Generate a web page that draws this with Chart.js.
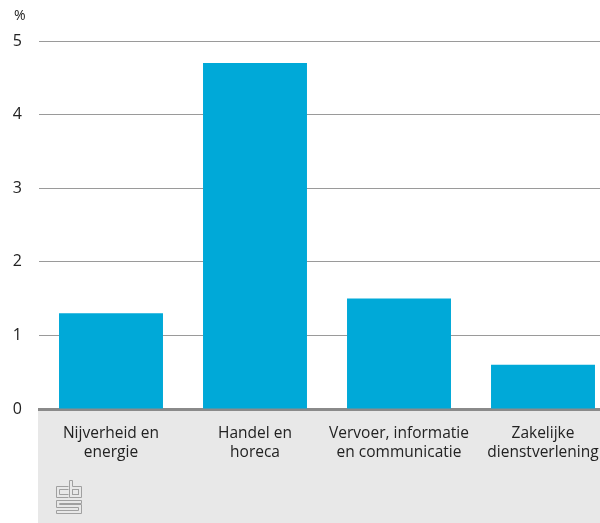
<!DOCTYPE html>
<html>
<head>
<meta charset="utf-8">
<script src="https://cdn.jsdelivr.net/npm/chart.js@4"></script>
<style>
html,body{margin:0;padding:0;overflow:hidden;background:#fff;width:600px;height:523px;}
canvas{display:block;}
</style>
</head>
<body>
<canvas id="c" width="615" height="523"></canvas>
<script>
const categories = [["Nijverheid en","energie"],["Handel en","horeca"],["Vervoer, informatie","en communicatie"],["Zakelijke","dienstverlening"]];
const values = [1.3, 4.7, 1.5, 0.6];
const yTicks = [0,1,2,3,4,5];
const unitLabel = "%";

const FONT = "'Open Sans', sans-serif";

const bgPlugin = {
  id: 'bg',
  beforeDraw(chart) {
    const {ctx, chartArea, width, height} = chart;
    ctx.save();
    ctx.fillStyle = '#e8e8e8';
    ctx.fillRect(chartArea.left - 1, chartArea.bottom + 1, width, height - chartArea.bottom);
    ctx.restore();
  },
  afterDraw(chart) {
    const {ctx} = chart;
    ctx.save();
    ctx.fillStyle = '#222';
    ctx.font = "14px " + FONT;
    ctx.textBaseline = 'middle';
    ctx.textAlign = 'left';
    ctx.fillText(unitLabel, 14, 16);
    // cbs logo (simplified)
    const x0 = 56, y0 = 480;
    ctx.strokeStyle = '#a0a0a0';
    ctx.lineWidth = 1;
    function r(x,y,w,h){ctx.strokeRect(x0+x+0.5,y0+y+0.5,w,h);}
    ctx.beginPath();
    ctx.moveTo(x0+12.5,y0+6.5);ctx.lineTo(x0+0.5,y0+6.5);ctx.lineTo(x0+0.5,y0+17.5);ctx.lineTo(x0+12.5,y0+17.5);
    ctx.moveTo(x0+12.5,y0+9.5);ctx.lineTo(x0+3.5,y0+9.5);ctx.lineTo(x0+3.5,y0+14.5);ctx.lineTo(x0+12.5,y0+14.5);
    ctx.stroke();
    ctx.beginPath();
    ctx.moveTo(x0+13.5,y0+0.5);ctx.lineTo(x0+13.5,y0+17.5);ctx.lineTo(x0+25.5,y0+17.5);ctx.lineTo(x0+25.5,y0+6.5);ctx.lineTo(x0+16.5,y0+6.5);ctx.lineTo(x0+16.5,y0+0.5);ctx.closePath();
    ctx.stroke();
    r(16,9,6,5);
    ctx.beginPath();
    ctx.moveTo(x0+25.5,y0+20.5);ctx.lineTo(x0+0.5,y0+20.5);ctx.lineTo(x0+0.5,y0+27.5);ctx.lineTo(x0+22.5,y0+27.5);ctx.lineTo(x0+22.5,y0+30.5);ctx.lineTo(x0+0.5,y0+30.5);ctx.lineTo(x0+0.5,y0+33.5);ctx.lineTo(x0+25.5,y0+33.5);ctx.lineTo(x0+25.5,y0+24.5);ctx.lineTo(x0+3.5,y0+24.5);ctx.lineTo(x0+3.5,y0+23.5);ctx.lineTo(x0+25.5,y0+23.5);ctx.closePath();
    ctx.stroke();
    ctx.restore();
  }
};

new Chart(document.getElementById('c'), {
  type: 'bar',
  data: {
    labels: categories,
    datasets: [{
      data: values,
      backgroundColor: '#00a9d8',
      borderWidth: 0,
      barPercentage: 0.722,
      categoryPercentage: 1.0
    }]
  },
  options: {
    responsive: false,
    animation: false,
    layout: { padding: { top: 41, left: 0, right: 0, bottom: 0 } },
    plugins: { legend: { display: false }, tooltip: { enabled: false } },
    scales: {
      x: {
        grid: { display: false, drawTicks: false },
        border: { display: true, color: '#8a8a8a', width: 3 },
        ticks: {
          color: '#222',
          font: { family: FONT, size: 15.5, lineHeight: 1.25 },
          padding: 15,
          maxRotation: 0,
          autoSkip: false
        },
        afterFit(scale) { scale.height = 114; }
      },
      y: {
        min: 0, max: 5,
        afterBuildTicks(scale) { scale.ticks = yTicks.map(v => ({value: v})); },
        grid: { color: '#9a9a9a', lineWidth: 1, drawTicks: false },
        border: { display: false },
        ticks: {
          color: '#222',
          font: { family: FONT, size: 16 },
          padding: 17
        },
        afterFit(scale) { scale.width = 39; }
      }
    }
  },
  plugins: [bgPlugin]
});
</script>
</body>
</html>
